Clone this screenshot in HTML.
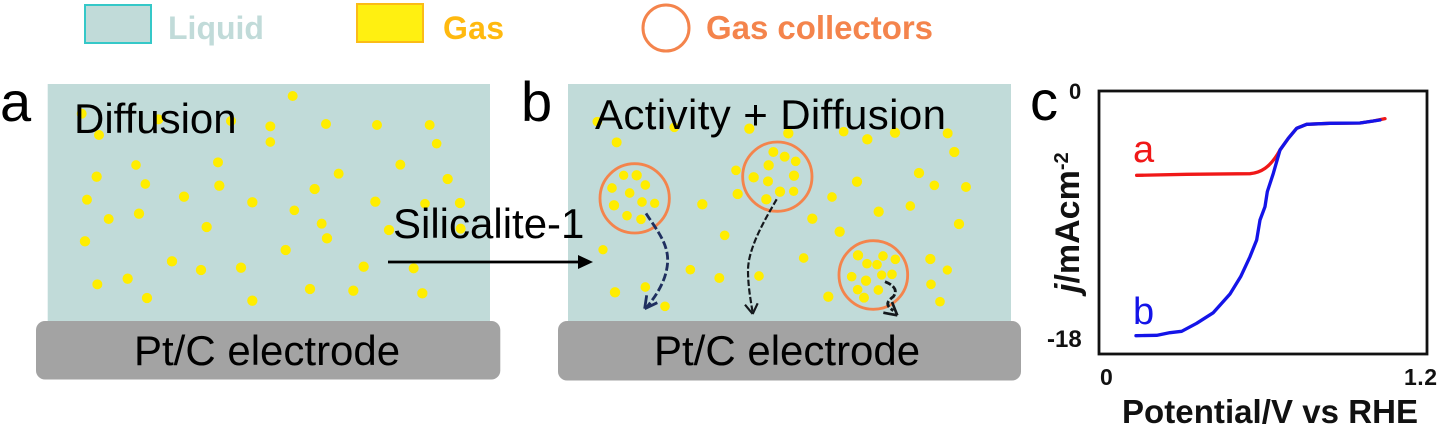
<!DOCTYPE html>
<html><head><meta charset="utf-8"><style>
html,body{margin:0;padding:0;background:#fff}
svg{display:block;filter:blur(.35px)}
text{font-family:"Liberation Sans",sans-serif}
</style></head><body>
<svg width="1439" height="427" viewBox="0 0 1439 427" xmlns="http://www.w3.org/2000/svg">
<rect width="1439" height="427" fill="#fff"/>
<!-- legend -->
<rect x="85" y="5" width="66" height="38" fill="#c1dbd9" stroke="#35c8c8" stroke-width="2"/>
<text x="168" y="39" font-size="32" font-weight="bold" fill="#c1dbd9">Liquid</text>
<rect x="357" y="4" width="66" height="38" fill="#fff011" stroke="#fbbc18" stroke-width="2"/>
<text x="443" y="39" font-size="32" font-weight="bold" fill="#ffb90f" textLength="61">Gas</text>
<circle cx="666" cy="28" r="23" fill="#fff" stroke="#f4844c" stroke-width="3"/>
<text x="706" y="39" font-size="33" font-weight="bold" fill="#f4844c" textLength="227">Gas collectors</text>
<!-- panels -->
<rect x="47.7" y="84" width="442.3" height="240" fill="#c1dbd9"/>
<rect x="568" y="84" width="443" height="240" fill="#c1dbd9"/>
<g fill="#ffed00" stroke="#ffed00" stroke-width="3" transform="scale(.33333)">
<circle cx="878" cy="288" r="13.5"/><circle cx="245" cy="341" r="13.5"/><circle cx="475" cy="358" r="13.5"/><circle cx="693" cy="363" r="13.5"/><circle cx="297" cy="405" r="13.5"/><circle cx="811" cy="379" r="13.5"/><circle cx="978" cy="372" r="13.5"/><circle cx="1131" cy="375" r="13.5"/><circle cx="1289" cy="375" r="13.5"/><circle cx="811" cy="426" r="13"/><circle cx="1310" cy="431" r="13"/><circle cx="408" cy="495" r="13"/><circle cx="654" cy="487" r="13.5"/><circle cx="1201" cy="494" r="13.5"/><circle cx="1016" cy="521" r="13.5"/><circle cx="290" cy="530" r="14"/><circle cx="1343" cy="537" r="14"/><circle cx="436" cy="552" r="13"/><circle cx="658" cy="557" r="14"/><circle cx="944" cy="567" r="14"/><circle cx="261" cy="599" r="13.5"/><circle cx="552" cy="590" r="14"/><circle cx="757" cy="607" r="14"/><circle cx="1126" cy="605" r="14"/><circle cx="1275" cy="611" r="13"/><circle cx="1380" cy="609" r="14"/><circle cx="883" cy="631" r="13"/><circle cx="417" cy="641" r="14"/><circle cx="326" cy="657" r="13.5"/><circle cx="965" cy="671" r="13.5"/><circle cx="620" cy="681" r="14"/><circle cx="1167" cy="690" r="14"/><circle cx="1382" cy="686" r="13.5"/><circle cx="255" cy="724" r="14"/><circle cx="981" cy="715" r="14"/><circle cx="857" cy="750" r="14"/><circle cx="516" cy="784" r="14"/><circle cx="603" cy="810" r="14"/><circle cx="723" cy="803" r="14"/><circle cx="1091" cy="800" r="14"/><circle cx="1241" cy="805" r="13.5"/><circle cx="383" cy="836" r="14"/><circle cx="292" cy="853" r="13.5"/><circle cx="930" cy="867" r="14"/><circle cx="1060" cy="872" r="14"/><circle cx="441" cy="894" r="14"/><circle cx="757" cy="902" r="14"/><circle cx="1267" cy="880" r="14"/>
</g>
<g transform="translate(510,70) scale(.33333)">
<g fill="#ffed00" stroke="#ffed00" stroke-width="3">
<circle cx="262" cy="155" r="13"/><circle cx="493" cy="172" r="13"/><circle cx="718" cy="176" r="14"/><circle cx="835" cy="190" r="14"/><circle cx="1001" cy="185" r="13"/><circle cx="1155" cy="188" r="14"/><circle cx="1313" cy="190" r="13.5"/><circle cx="1072" cy="208" r="14"/><circle cx="320" cy="217" r="13.5"/><circle cx="1333" cy="246" r="14"/>
<circle cx="790" cy="246" r="13.5"/><circle cx="824" cy="260" r="13.5"/><circle cx="857" cy="274" r="13"/><circle cx="776" cy="286" r="14"/><circle cx="678" cy="301" r="13"/><circle cx="1227" cy="309" r="14"/><circle cx="852" cy="317" r="14"/><circle cx="731" cy="322" r="14"/><circle cx="1041" cy="335" r="14"/><circle cx="774" cy="334" r="13.5"/><circle cx="1273" cy="346" r="13"/><circle cx="1368" cy="351" r="13.5"/><circle cx="683" cy="372" r="14"/><circle cx="810" cy="365" r="14"/><circle cx="851" cy="364" r="12.5"/><circle cx="769" cy="388" r="14"/><circle cx="966" cy="381" r="13"/><circle cx="577" cy="403" r="14"/><circle cx="1201" cy="408" r="13"/><circle cx="1106" cy="425" r="14"/><circle cx="907" cy="446" r="14"/><circle cx="1347" cy="462" r="14"/><circle cx="989" cy="485" r="14"/><circle cx="644" cy="496" r="13"/><circle cx="279" cy="539" r="12.5"/><circle cx="881" cy="564" r="13"/><circle cx="1261" cy="567" r="14"/><circle cx="1312" cy="600" r="12.5"/><circle cx="541" cy="599" r="13"/><circle cx="628" cy="624" r="13.5"/><circle cx="747" cy="618" r="13"/><circle cx="1263" cy="643" r="13"/><circle cx="315" cy="667" r="14"/><circle cx="406" cy="651" r="13"/><circle cx="955" cy="680" r="14"/><circle cx="1290" cy="695" r="13"/><circle cx="465" cy="709" r="13"/>
<circle cx="341" cy="316" r="12.5"/><circle cx="380" cy="316" r="14"/><circle cx="306" cy="354" r="13"/><circle cx="406" cy="345" r="13"/><circle cx="359" cy="369" r="13"/><circle cx="312" cy="406" r="14"/><circle cx="396" cy="396" r="13"/><circle cx="434" cy="400" r="12.5"/><circle cx="351" cy="437" r="13"/><circle cx="393" cy="448" r="13"/>
<circle cx="1044" cy="556" r="14"/><circle cx="1119" cy="558" r="13"/><circle cx="1156" cy="568" r="13"/><circle cx="1071" cy="581" r="13"/><circle cx="1101" cy="584" r="13"/><circle cx="1146" cy="613" r="13"/><circle cx="1115" cy="615" r="12.5"/><circle cx="1025" cy="620" r="13"/><circle cx="1068" cy="632" r="14"/><circle cx="1043" cy="659" r="13"/><circle cx="1105" cy="660" r="13"/><circle cx="1062" cy="683" r="13.5"/>
</g>
<g fill="none" stroke="#f4844c" stroke-width="8.5">
<circle cx="374" cy="385" r="104"/><circle cx="802" cy="320" r="104"/><circle cx="1090" cy="615" r="103"/>
</g>
<g fill="none" stroke-linecap="butt">
<path d="M408,430 C440,480 475,520 473,575 C470,630 440,675 410,712" stroke="#1f2f5f" stroke-width="8.5" stroke-dasharray="24 9"/>
<path d="M404,716 L410,676 M404,716 L442,698" stroke="#1f2f5f" stroke-width="8.5"/>
<path d="M800,388 C770,440 715,530 714,600 C714,650 722,690 728,728" stroke="#14181c" stroke-width="6.5" stroke-dasharray="19 7"/>
<path d="M728,732 L705,704 M728,732 L743,700" stroke="#14181c" stroke-width="6.5"/>
<path d="M1125,635 C1150,645 1165,660 1150,680 C1130,695 1125,705 1150,722" stroke="#14181c" stroke-width="8.5" stroke-dasharray="20 7"/>
<path d="M1162,736 L1120,728 M1162,736 L1146,696" stroke="#14181c" stroke-width="8"/>
</g>
</g>
<!-- electrodes -->
<rect x="36" y="321" width="464.300" height="58.500" rx="9" fill="#a3a3a3"/>
<rect x="558" y="321" width="463" height="59.500" rx="9" fill="#a3a3a3"/>
<!-- text -->
<g fill="#000" font-size="42">
<text x="74" y="133">Diffusion</text>
<text x="134" y="365">Pt/C electrode</text>
<text x="654" y="365">Pt/C electrode</text>
<text x="595" y="129" textLength="351">Activity + Diffusion</text>
<text x="393" y="238">Silicalite-1</text>
</g>
<g fill="#000" font-size="56">
<text x="0" y="121">a</text>
<text x="521" y="121">b</text>
<text x="1030" y="120">c</text>
</g>
<!-- arrow -->
<path d="M388,262 H579" stroke="#000" stroke-width="2.800"/>
<path d="M593,262 L578,255 V269 Z" fill="#000"/>
<!-- chart -->
<rect x="1099" y="91" width="328" height="263" fill="#fff" stroke="#111" stroke-width="2.800"/>
<g transform="translate(1030,70) scale(.33333)" fill="none" stroke-linejoin="round" stroke-linecap="round">
<path d="M320,316 L470,313 L660,311 C690,308 720,295 750,240 L775,205 L800,175 L830,163 L900,160 L990,159 L1030,153 L1065,146" stroke="#f01818" stroke-width="10"/>
<path d="M318,797 L380,796 L420,788 L455,784 L500,760 L550,728 L600,672 L632,620 L660,560 L680,510 L690,450 L705,410 L712,365 L730,310 L750,240 L775,205 L800,175 L830,163 L900,160 L990,159 L1050,150" stroke="#1414e8" stroke-width="10"/>
</g>
<text x="1133" y="162" font-size="38" fill="#f01818">a</text>
<text x="1133" y="324" font-size="38" fill="#1414e8">b</text>
<g fill="#111" font-weight="bold">
<text x="1069" y="99" font-size="22">0</text>
<text x="1047" y="347" font-size="24">-18</text>
<text x="1100" y="385" font-size="23">0</text>
<text x="1404" y="385" font-size="23" textLength="33">1.2</text>
<text x="1122" y="423" font-size="33" textLength="296">Potential/V vs RHE</text>
<text transform="translate(1079,293) rotate(-90)" font-size="34"><tspan font-style="italic">j</tspan>/mAcm<tspan font-size="20" dy="-11">-2</tspan></text>
</g>
</svg>
</body></html>
